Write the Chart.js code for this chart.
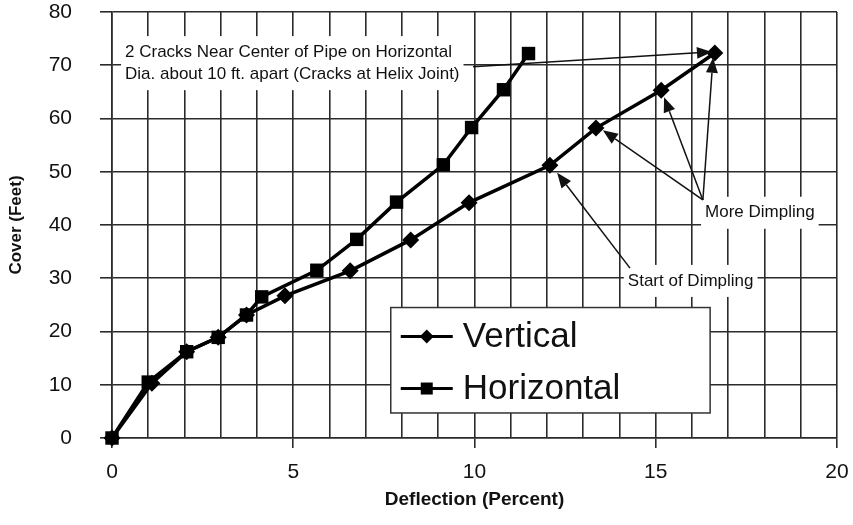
<!DOCTYPE html>
<html>
<head>
<meta charset="utf-8">
<script src="https://cdn.jsdelivr.net/npm/chart.js@4.4.1/dist/chart.umd.min.js"></script>
<style>
  html, body { margin: 0; padding: 0; background: #fff; }
</style>
</head>
<body>
<canvas id="deflChart" width="853" height="525"></canvas>
<script>
// values
var verticalX = [0, 1.1, 2.06, 2.93, 3.71, 4.77, 6.57, 8.24, 9.85, 12.08, 13.35, 15.15, 16.63];
var verticalY = [0, 10.3, 16.2, 18.9, 23.1, 26.7, 31.4, 37.2, 44.2, 51.2, 58.2, 65.3, 72.3];
var horizontalX = [0, 1.0, 2.06, 2.93, 3.71, 4.13, 5.65, 6.75, 7.85, 9.14, 9.92, 10.8, 11.49];
var horizontalY = [0, 10.5, 16.2, 18.9, 23.1, 26.5, 31.5, 37.3, 44.3, 51.3, 58.3, 65.4, 72.2];
var xTickLabels = [0, 5, 10, 15, 20];
var yTickLabels = [0, 10, 20, 30, 40, 50, 60, 70, 80];

var FONT = "'Liberation Sans', Arial, sans-serif";

function toPoints(xs, ys) {
    return xs.map(function (x, i) { return { x: x, y: ys[i] }; });
}

// notes placed in data units (left edge x, vertical centre y)
var notes = [
    { lines: ["2 Cracks Near Center of Pipe on Horizontal", "Dia. about 10 ft. apart (Cracks at Helix Joint)"], x: 0.36, y: 70.4 },
    { lines: ["More Dimpling"], x: 16.36, y: 42.3 },
    { lines: ["Start of Dimpling"], x: 14.23, y: 29.5 }
];
var arrows = [
    { from: [9.96, 69.7], to: [16.55, 72.5] },
    { from: [16.3, 44.7], to: [16.58, 71.4] },
    { from: [16.3, 44.7], to: [15.23, 64.0] },
    { from: [16.3, 44.7], to: [13.54, 57.8] },
    { from: [14.29, 31.9], to: [12.28, 49.8] }
];

function toPx(chart, x, y) {
    return [chart.scales.x.getPixelForValue(x), chart.scales.y.getPixelForValue(y)];
}

function drawArrow(ctx, a, b) {
    var ang = Math.atan2(b[1] - a[1], b[0] - a[0]);
    var len = 15, half = 6;
    var bx = b[0] - Math.cos(ang) * len, by = b[1] - Math.sin(ang) * len;
    ctx.beginPath();
    ctx.moveTo(a[0], a[1]);
    ctx.lineTo(bx, by);
    ctx.stroke();
    ctx.beginPath();
    ctx.moveTo(b[0], b[1]);
    ctx.lineTo(bx + Math.sin(ang) * half, by - Math.cos(ang) * half);
    ctx.lineTo(bx - Math.sin(ang) * half, by + Math.cos(ang) * half);
    ctx.closePath();
    ctx.fill();
}

function drawMarker(ctx, style, x, y, r) {
    ctx.beginPath();
    if (style === 'rectRot') {
        ctx.moveTo(x - r, y); ctx.lineTo(x, y - r); ctx.lineTo(x + r, y); ctx.lineTo(x, y + r);
    } else {
        ctx.rect(x - r, y - r, 2 * r, 2 * r);
    }
    ctx.closePath();
    ctx.fill();
}

var notesPlugin = {
    id: 'notes',
    beforeDatasetsDraw: function (chart) {
        var ctx = chart.ctx;
        ctx.save();
        ctx.font = "17px " + FONT;
        ctx.textBaseline = 'middle';
        ctx.textAlign = 'left';
        notes.forEach(function (n) {
            var p = toPx(chart, n.x, n.y);
            var lh = 22;
            var w = Math.max.apply(null, n.lines.map(function (l) { return ctx.measureText(l).width; }));
            var h = n.lines.length * lh;
            ctx.fillStyle = '#fff';
            ctx.fillRect(p[0] - 4, p[1] - h / 2 - 5, w + 8, h + 10);
            ctx.fillStyle = '#111';
            n.lines.forEach(function (l, i) {
                ctx.fillText(l, p[0], p[1] - h / 2 + lh / 2 + i * lh);
            });
        });
        ctx.restore();
    },
    afterDatasetsDraw: function (chart) {
        var ctx = chart.ctx;
        ctx.save();
        ctx.strokeStyle = '#111';
        ctx.fillStyle = '#111';
        ctx.lineWidth = 1.5;
        arrows.forEach(function (a) {
            drawArrow(ctx, toPx(chart, a.from[0], a.from[1]), toPx(chart, a.to[0], a.to[1]));
        });

        // legend box inside the plot
        var tl = toPx(chart, 7.69, 24.5), br = toPx(chart, 16.5, 4.7);
        ctx.fillStyle = '#fff';
        ctx.fillRect(tl[0], tl[1], br[0] - tl[0], br[1] - tl[1]);
        ctx.strokeStyle = '#333';
        ctx.lineWidth = 1.5;
        ctx.strokeRect(tl[0], tl[1], br[0] - tl[0], br[1] - tl[1]);
        ctx.font = "35px " + FONT;
        ctx.textBaseline = 'middle';
        ctx.textAlign = 'left';
        chart.data.datasets.forEach(function (ds, i) {
            var y = tl[1] + 29 + i * 52;
            ctx.strokeStyle = '#000';
            ctx.lineWidth = 3;
            ctx.beginPath();
            ctx.moveTo(tl[0] + 10, y);
            ctx.lineTo(tl[0] + 62, y);
            ctx.stroke();
            ctx.fillStyle = '#000';
            drawMarker(ctx, ds.pointStyle, tl[0] + 36, y, ds.pointStyle === 'rectRot' ? 7 : 6);
            ctx.fillStyle = '#111';
            ctx.fillText(ds.label, tl[0] + 72, y + 1);
        });
        ctx.restore();
    }
};

var ctx = document.getElementById('deflChart').getContext('2d');
var deflChart = new Chart(ctx, {
    type: 'scatter',
    data: {
        datasets: [{
            label: 'Vertical',
            data: toPoints(verticalX, verticalY),
            showLine: true,
            clip: false,
            borderColor: '#000',
            backgroundColor: '#000',
            borderWidth: 3.5,
            pointStyle: 'rectRot',
            pointRadius: 8.5,
            pointBorderWidth: 0
        }, {
            label: 'Horizontal',
            data: toPoints(horizontalX, horizontalY),
            showLine: true,
            clip: false,
            borderColor: '#000',
            backgroundColor: '#000',
            borderWidth: 3.5,
            pointStyle: 'rect',
            pointRadius: 9.5,
            pointBorderWidth: 0
        }]
    },
    options: {
        responsive: false,
        animation: false,
        layout: { autoPadding: false, padding: { left: 0, right: 16, top: 12, bottom: 0 } },
        plugins: {
            legend: { display: false },
            tooltip: { enabled: false }
        },
        scales: {
            x: {
                type: 'linear',
                min: 0,
                max: 20,
                afterFit: function (s) { s.height = 87; s.paddingLeft = 0; s.paddingRight = 0; },
                ticks: {
                    stepSize: 1,
                    autoSkip: false,
                    maxRotation: 0,
                    padding: 12,
                    color: '#111',
                    font: { family: FONT, size: 21 },
                    callback: function (v) { return xTickLabels.indexOf(v) >= 0 ? String(v) : ''; }
                },
                grid: {
                    color: '#2b2b2b',
                    lineWidth: 1.6,
                    tickLength: 10,
                    tickColor: function (c) { return c.tick && xTickLabels.indexOf(c.tick.value) >= 0 ? '#2b2b2b' : 'rgba(0,0,0,0)'; }
                },
                border: { color: '#2b2b2b', width: 1.6 },
                title: {
                    display: true,
                    text: 'Deflection (Percent)',
                    color: '#111',
                    font: { family: FONT, size: 19, weight: 'bold' },
                    padding: { top: 0, bottom: 14 }
                }
            },
            y: {
                min: 0,
                max: 80,
                afterFit: function (s) { s.width = 112; s.paddingTop = 0; s.paddingBottom = 0; },
                ticks: {
                    stepSize: 10,
                    padding: 28,
                    color: '#111',
                    font: { family: FONT, size: 21 },
                    callback: function (v) { return yTickLabels.indexOf(v) >= 0 ? String(v) : ''; }
                },
                grid: { color: '#2b2b2b', lineWidth: 1.6, tickLength: 12 },
                border: { color: '#2b2b2b', width: 1.6 },
                title: {
                    display: true,
                    text: 'Cover (Feet)',
                    color: '#111',
                    font: { family: FONT, size: 17, weight: 'bold' },
                    padding: { top: 6, bottom: 0 }
                }
            }
        }
    },
    plugins: [notesPlugin]
});
</script>
</body>
</html>
